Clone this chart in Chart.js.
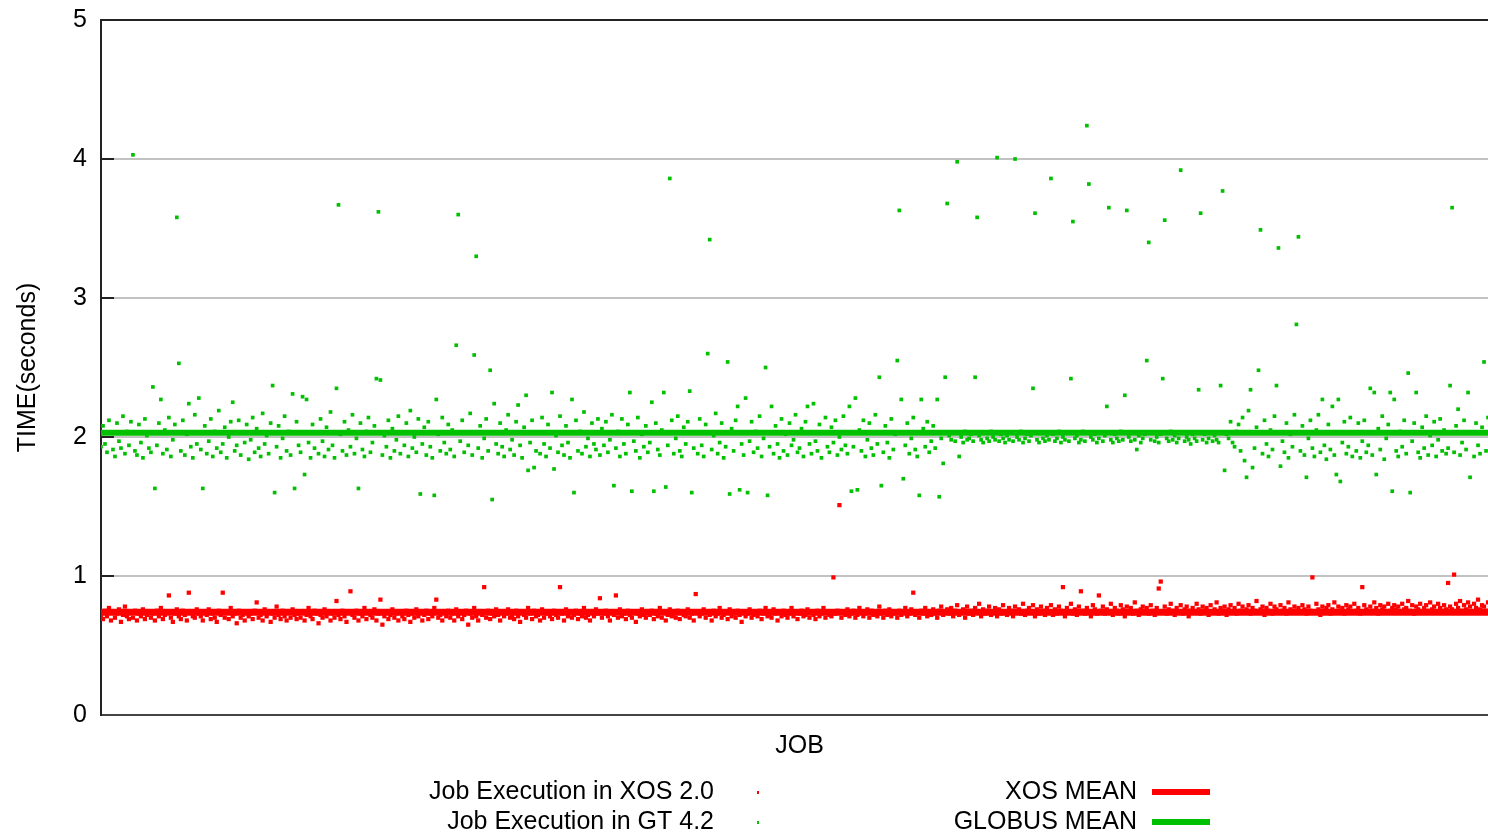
<!DOCTYPE html>
<html>
<head>
<meta charset="utf-8">
<title>Job execution time: XOS 2.0 vs GT 4.2</title>
<script src="https://cdn.jsdelivr.net/npm/chart.js@4.4.1/dist/chart.umd.min.js"></script>
<style>
  html, body { margin: 0; padding: 0; background: #fff; overflow: hidden; }
  #wrap { position: relative; width: 1502px; height: 834px; }
</style>
</head>
<body>
<div id="wrap"><canvas id="jobChart" width="1502" height="834"></canvas></div>
<script>
// ==== DATA ====
// time per job in hundredths of a second, job 0 at the left edge
const xosTimesCs = [
  72,69,75,71,77,68,74,70,73,76,67,72,78,71,69,74,70,75,68,73,71,76,69,72,74,
  70,73,68,75,71,77,69,72,74,86,70,67,73,76,71,69,75,72,68,88,74,71,70,76,73,
  71,68,74,72,76,69,73,70,67,75,72,88,70,74,69,77,71,73,66,75,70,72,68,74,71,
  73,69,75,81,70,72,68,76,71,74,67,73,70,78,72,69,75,71,68,74,70,76,72,69,73,
  70,74,68,72,77,71,69,75,73,66,72,70,76,71,74,68,73,70,82,72,69,75,71,67,74,
  89,72,70,75,68,73,71,77,69,74,72,70,76,68,73,83,65,71,74,69,72,76,70,73,68,
  74,71,69,75,72,67,73,70,76,71,74,68,72,75,69,73,71,77,83,70,72,68,74,71,75,
  70,73,68,76,71,74,69,72,75,65,73,70,77,71,68,74,72,92,70,75,69,73,71,76,72,
  68,74,71,73,76,70,72,69,75,71,67,74,72,70,77,73,69,75,71,72,68,76,70,73,74,
  71,69,75,72,70,92,73,68,76,71,74,70,72,75,69,73,71,77,70,72,68,74,71,76,73,
  84,70,73,75,71,68,74,72,86,70,76,71,73,69,75,72,70,74,67,73,71,76,72,70,74,
  72,75,69,73,71,77,70,74,68,72,76,71,73,70,75,69,74,72,71,76,70,73,68,87,74,
  71,73,76,70,74,72,68,75,71,73,77,70,72,74,69,76,71,73,70,75,72,67,74,71,73,
  76,70,72,74,71,75,69,73,77,71,72,70,76,73,68,74,71,75,72,70,73,77,71,74,69,
  73,75,71,72,76,70,74,72,69,75,71,73,77,70,74,72,71,99,73,75,151,70,74,72,76,
  71,73,75,70,72,77,74,71,73,76,70,75,72,74,71,78,73,70,75,72,76,71,74,73,70,
  75,72,74,77,71,73,76,88,72,74,70,75,73,77,71,74,72,76,73,70,75,78,72,74,76,
  73,77,71,75,79,72,74,76,70,78,73,75,72,77,74,80,71,76,73,75,78,72,74,77,71,
  76,73,79,74,72,77,75,71,78,74,76,73,80,72,75,77,74,79,71,76,73,78,75,72,77,
  74,79,72,76,73,78,75,92,71,77,74,80,73,76,72,78,89,75,73,77,74,71,79,76,73,
  86,75,78,73,76,74,80,72,77,75,73,79,76,71,78,74,77,73,81,75,72,76,78,74,77,
  73,79,75,72,77,91,96,74,78,73,76,80,75,72,77,74,79,73,76,78,71,75,77,74,80,
  76,73,78,75,77,72,79,74,76,81,73,77,75,78,72,76,79,74,77,73,80,75,78,74,76,
  79,73,77,75,82,74,76,78,72,77,75,80,73,78,76,74,79,75,77,73,81,76,74,78,75,
  77,74,79,76,73,78,75,99,74,80,76,72,78,75,77,79,73,76,81,74,78,75,77,73,79,
  76,78,74,80,75,77,73,92,79,76,74,78,75,81,77,73,79,76,78,74,80,75,77,79,76,
  78,74,80,76,77,82,75,79,73,78,76,80,74,77,79,75,81,76,78,74,80,77,75,79,76,
  95,78,76,101,80,77,82,75,79,76,81,78,74,80,77,83,76,79,78,75,81,77,80,76,79
];
const gtTimesCs = [
  193,208,195,189,212,203,191,186,210,197,192,215,188,204,194,211,403,190,187,209,196,185,213,201,192,
  189,236,163,194,210,227,188,205,191,214,186,198,209,358,253,190,212,187,202,224,193,185,216,195,228,
  191,163,208,188,197,213,186,204,192,219,189,195,207,185,200,211,225,190,194,212,187,203,196,209,184,
  198,214,189,206,192,186,217,195,201,188,210,237,160,193,208,185,199,215,190,204,187,231,163,211,194,
  189,229,173,227,196,185,209,192,203,188,213,197,186,207,191,218,194,185,235,367,202,190,211,187,205,
  193,216,188,199,163,210,191,186,204,214,189,196,208,242,362,241,187,201,193,212,185,206,190,198,215,
  188,203,194,210,186,219,192,200,189,213,159,195,207,187,211,193,185,158,227,202,190,214,196,188,209,
  191,205,186,266,360,197,212,189,203,194,217,187,259,330,192,208,185,199,213,190,248,155,224,195,188,
  210,193,186,205,216,191,198,187,211,223,194,185,207,230,176,196,212,178,190,203,188,214,195,186,209,
  192,232,177,201,189,215,194,187,208,196,185,227,160,212,190,204,188,218,193,199,186,210,195,191,213,
  187,206,194,211,189,198,216,165,192,204,186,213,195,188,209,232,161,197,190,214,185,202,193,208,189,
  196,225,161,210,191,187,205,232,164,194,386,212,188,199,215,190,186,207,195,211,233,160,192,203,188,
  213,194,186,209,260,342,191,201,217,188,196,210,185,193,254,159,206,190,212,222,162,195,187,228,160,
  197,211,189,204,192,215,186,199,250,158,193,222,188,208,195,185,213,190,202,187,210,194,198,216,189,
  192,206,186,211,222,195,188,224,197,190,209,185,203,214,193,189,207,196,212,187,200,191,215,194,188,
  222,161,193,228,162,205,190,212,186,198,210,192,187,216,195,243,165,189,208,196,185,213,191,202,255,
  363,227,170,194,210,188,199,214,191,186,158,227,206,193,211,189,197,208,192,227,157,199,181,243,368,
  201,198,203,197,398,186,200,196,204,198,199,202,197,243,358,201,198,196,203,199,197,204,200,198,401,
  197,202,199,196,201,198,203,197,400,200,198,204,196,199,202,197,201,235,361,198,196,203,199,197,201,
  198,386,202,197,199,204,196,200,198,203,197,242,355,199,201,196,198,204,197,424,382,200,198,202,196,
  199,203,197,201,222,365,198,196,202,199,197,204,198,230,363,200,197,203,198,191,201,196,199,202,255,
  340,198,203,197,200,196,202,242,356,199,197,204,198,201,196,199,392,203,197,200,198,195,202,199,197,
  234,361,198,202,196,199,203,197,201,198,196,237,377,176,202,199,211,196,193,204,209,190,214,183,171,
  219,234,178,192,207,248,349,188,212,195,186,205,191,215,237,336,179,197,189,210,185,202,193,216,281,
  344,190,208,187,171,199,212,192,186,205,216,189,227,194,184,209,191,222,187,173,227,168,196,211,188,
  193,214,186,203,190,210,185,197,212,189,194,235,187,232,173,206,191,215,184,199,209,232,161,227,190,
  186,204,193,212,188,246,160,197,210,232,189,185,207,192,215,187,201,194,211,186,198,213,190,205,188,
  192,237,365,189,208,220,187,196,212,191,232,171,203,186,210,194,188,207,254,190,214,185,199,211,189
];
const xosMean = 0.74;     // seconds
const globusMean = 2.03;  // seconds
const jobCount = 700;
const yTicks = [0, 1, 2, 3, 4, 5];
const seriesLabels = ['Job Execution in XOS 2.0', 'Job Execution in GT 4.2', 'XOS MEAN', 'GLOBUS MEAN'];
const xTitle = 'JOB';
const yTitle = 'TIME(seconds)';

// ==== COLOURS / FONT ====
const RED = '#ff0000';
const GREEN = '#00c000';
const FONT = '"Liberation Sans", Arial, sans-serif';

const toPoints = arr => arr.map((v, i) => ({ x: i, y: v / 100 }));
const flat = m => [{ x: 0, y: m }, { x: jobCount, y: m }];

// ==== PLUGINS ====
// short dark tick marks drawn inside the plot on the y axis
const innerTicks = {
  id: 'innerTicks',
  afterDraw(chart) {
    const { ctx, chartArea, scales } = chart;
    ctx.save();
    ctx.strokeStyle = '#222';
    ctx.lineWidth = 2;
    yTicks.slice(1, -1).forEach(v => {
      const y = Math.round(scales.y.getPixelForValue(v));
      ctx.beginPath();
      ctx.moveTo(chartArea.left, y);
      ctx.lineTo(chartArea.left + 13, y);
      ctx.stroke();
    });
    ctx.restore();
  }
};

// gnuplot-like key under the plot: text, then sample
const keyBox = {
  id: 'keyBox',
  afterDraw(chart) {
    const ctx = chart.ctx;
    const ds = chart.data.datasets;
    ctx.save();
    ctx.font = '25px ' + FONT;
    ctx.textAlign = 'right';
    ctx.textBaseline = 'alphabetic';
    const rows = [799, 829];
    // point series
    [0, 1].forEach((i, r) => {
      ctx.fillStyle = '#000';
      ctx.fillText(ds[i].label, 714, rows[r]);
      ctx.fillStyle = ds[i].backgroundColor;
      ctx.fillRect(757, rows[r] - 8, 2, 3);
    });
    // mean lines
    [2, 3].forEach((i, r) => {
      ctx.fillStyle = '#000';
      ctx.fillText(ds[i].label, 1137, rows[r]);
      ctx.fillStyle = ds[i].borderColor;
      ctx.fillRect(1152, rows[r] - 10, 58, 6);
    });
    ctx.restore();
  }
};

// ==== CHART ====
const ctx = document.getElementById('jobChart').getContext('2d');
const jobChart = new Chart(ctx, {
  type: 'scatter',
  data: {
    datasets: [
      {
        label: seriesLabels[0],
        data: toPoints(xosTimesCs),
        backgroundColor: RED,
        borderWidth: 0,
        pointStyle: 'rect',
        pointRadius: 3,
        order: 3
      },
      {
        label: seriesLabels[1],
        data: toPoints(gtTimesCs),
        backgroundColor: GREEN,
        borderWidth: 0,
        pointStyle: 'rect',
        pointRadius: 2.6,
        order: 2
      },
      {
        label: seriesLabels[2],
        type: 'line',
        data: flat(xosMean),
        borderColor: RED,
        borderWidth: 7,
        pointRadius: 0,
        order: 1
      },
      {
        label: seriesLabels[3],
        type: 'line',
        data: flat(globusMean),
        borderColor: GREEN,
        borderWidth: 6,
        pointRadius: 0,
        order: 0
      }
    ]
  },
  options: {
    responsive: false,
    animation: false,
    events: [],
    layout: { padding: { top: 20, right: 0, bottom: 73, left: 0 } },
    plugins: {
      legend: { display: false },
      tooltip: { enabled: false }
    },
    scales: {
      x: {
        type: 'linear',
        min: 0,
        max: jobCount,
        ticks: { display: false },
        grid: { display: false },
        border: { color: '#444', width: 2 },
        title: {
          display: true,
          text: xTitle,
          color: '#000',
          font: { family: FONT, size: 25 },
          padding: 0
        },
        afterFit: s => { s.height = 46; }
      },
      y: {
        min: yTicks[0],
        max: yTicks[yTicks.length - 1],
        afterBuildTicks: s => { s.ticks = yTicks.map(v => ({ value: v })); },
        ticks: {
          color: '#000',
          padding: 14,
          font: { family: FONT, size: 25 }
        },
        grid: {
          drawTicks: false,
          color: c => c.tick.value === 5 ? '#222' : '#c2c2c2',
          lineWidth: 2
        },
        border: { color: '#222', width: 2 },
        title: {
          display: true,
          text: yTitle,
          color: '#000',
          font: { family: FONT, size: 25 },
          padding: { top: 13, bottom: 0 }
        },
        afterFit: s => {
          s.width = 101;
          s.paddingTop = 0;
          s.paddingBottom = 0;
        }
      }
    }
  },
  plugins: [innerTicks, keyBox]
});
</script>
</body>
</html>
